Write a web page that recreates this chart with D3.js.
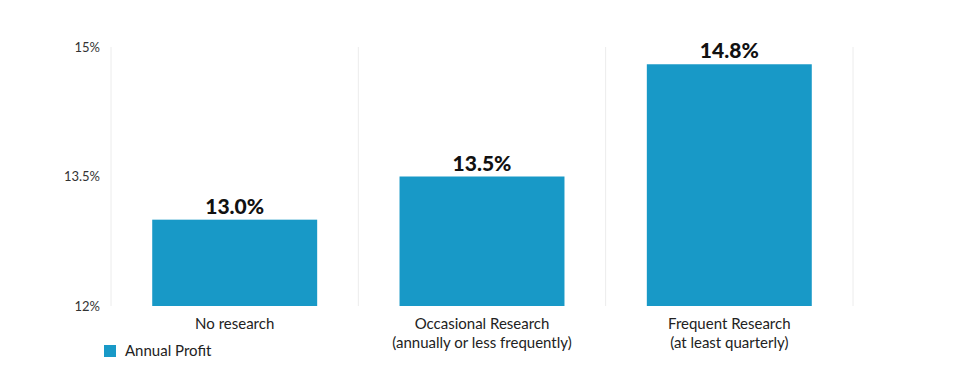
<!DOCTYPE html>
<html>
<head>
<meta charset="utf-8">
<script src="https://cdn.jsdelivr.net/npm/d3@7"></script>
<style>
	body { margin: 0; background: #fff; }
	svg { display: block; font-family: "Lato", "Open Sans", sans-serif; }
</style>
</head>
<body>
<svg width="974" height="387"></svg>
<script>
var categories = [
	["No research"],
	["Occasional Research", "(annually or less frequently)"],
	["Frequent Research", "(at least quarterly)"]
];
var profit = [13.0, 13.5, 14.8];
var yTicks = [12, 13.5, 15];
var seriesName = "Annual Profit";

var svg = d3.select("svg");
var barColor = "#1899c7";
var plotLeft = 111, plotRight = 853, plotTop = 47, plotBottom = 306;

var x = d3.scaleBand()
	.domain(d3.range(categories.length))
	.range([plotLeft, plotRight])
	.paddingInner(0.333)
	.paddingOuter(0.1667);

var y = d3.scaleLinear()
	.domain([12, 15])
	.range([plotBottom, plotTop]);

// vertical gridlines between the categories
var step = x.step();
var gridX = d3.range(categories.length + 1).map(function(i) {
	return i < categories.length ? x(i) - step * x.paddingInner() / 2 : plotRight;
});
gridX[0] = plotLeft;

svg.append("g")
	.selectAll("line")
	.data(gridX)
	.join("line")
	.attr("x1", function(d) { return d; })
	.attr("x2", function(d) { return d; })
	.attr("y1", plotTop)
	.attr("y2", plotBottom)
	.attr("stroke", "#ececec")
	.attr("stroke-width", 1);

// y axis labels
var yAxis = d3.axisLeft(y)
	.tickValues(yTicks)
	.tickSize(0)
	.tickPadding(0)
	.tickFormat(function(d) { return d + "%"; });

svg.append("g")
	.attr("transform", "translate(100,0)")
	.call(yAxis)
	.call(function(g) { g.select(".domain").remove(); })
	.selectAll("text")
	.attr("font-family", "Lato, sans-serif")
	.attr("font-size", 13)
	.attr("fill", "#333");

// bars
svg.append("g")
	.selectAll("rect")
	.data(profit)
	.join("rect")
	.attr("x", function(d, i) { return x(i); })
	.attr("y", function(d) { return y(d); })
	.attr("width", x.bandwidth())
	.attr("height", function(d) { return y(12) - y(d); })
	.attr("fill", barColor);

// value labels
svg.append("g")
	.selectAll("text")
	.data(profit)
	.join("text")
	.attr("x", function(d, i) { return x(i) + x.bandwidth() / 2; })
	.attr("y", function(d) { return y(d) - 6; })
	.attr("text-anchor", "middle")
	.attr("font-size", 21)
	.attr("font-weight", 900)
	.attr("fill", "#111")
	.text(function(d) { return d.toFixed(1) + "%"; });

// category labels
var cat = svg.append("g")
	.selectAll("text")
	.data(categories)
	.join("text")
	.attr("x", function(d, i) { return x(i) + x.bandwidth() / 2; })
	.attr("y", 329)
	.attr("text-anchor", "middle")
	.attr("font-size", 15)
	.attr("fill", "#222");

cat.selectAll("tspan")
	.data(function(d) { return d; })
	.join("tspan")
	.attr("x", function() { return d3.select(this.parentNode).attr("x"); })
	.attr("dy", function(d, i) { return i ? 19 : 0; })
	.text(function(d) { return d; });

// legend
var legend = svg.append("g").attr("transform", "translate(104,345)");
legend.append("rect")
	.attr("width", 12)
	.attr("height", 12)
	.attr("fill", barColor);
legend.append("text")
	.attr("x", 21)
	.attr("y", 11)
	.attr("font-size", 15)
	.attr("fill", "#222")
	.text(seriesName);
</script>
</body>
</html>
